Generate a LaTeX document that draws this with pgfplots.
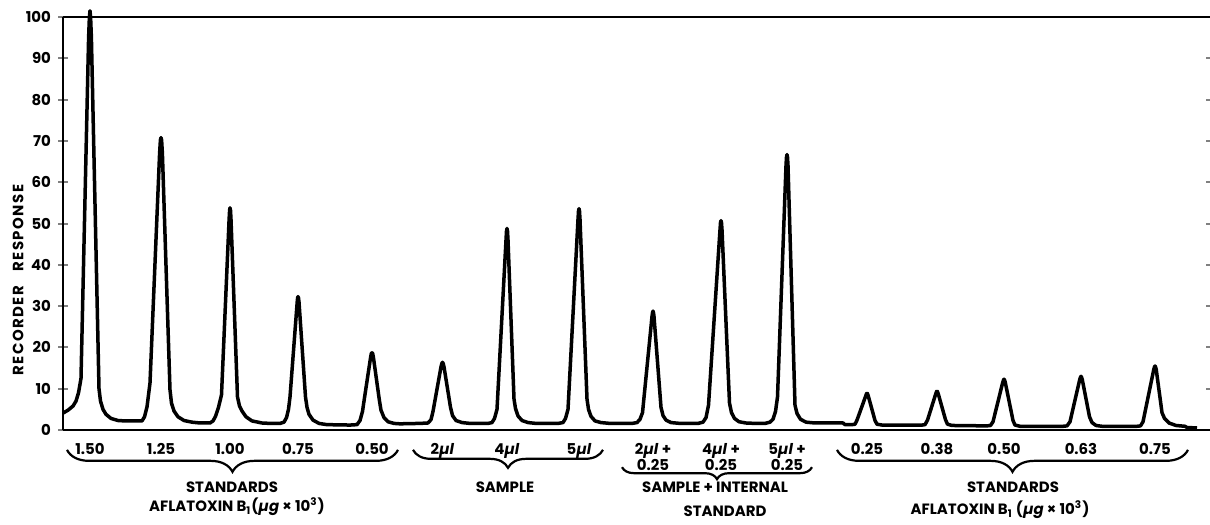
\documentclass[border=0pt]{standalone}
\usepackage{fontspec}
\setmainfont{Poppins}
\usepackage{pgfplots}
\pgfplotsset{compat=1.18}
\usetikzlibrary{decorations.pathreplacing}

\begin{document}
\begin{tikzpicture}[font=\bfseries\fontsize{7.5}{9.5}\selectfont]
\begin{axis}[
  scale only axis, width=573.5bp, height=206.5bp,
  xmin=63, xmax=1210, ymin=0, ymax=100,
  axis x line=box, axis y line*=left,
  x axis line style={-}, y axis line style={-},
  axis line style={line width=1.3bp},
  clip=false,
  /pgf/number format/assume math mode=true,
  ytick={0,10,...,100},
  ytick pos=left,
  tick align=center,
  major tick length=5bp,
  y tick style={line width=1bp},
  x tick style={draw=none},
  xtick={90,161,230,298,372,442.5,507,579,653,721,787,867,937,1004,1081,1155},
  xticklabels={1.50,1.25,1.00,0.75,0.50,2\textit{µl},4\textit{µl},5\textit{µl},
    {2\textit{µl} +\\0.25},{4\textit{µl} +\\0.25},{5\textit{µl} +\\0.25},
    0.25,0.38,0.50,0.63,0.75},
  xticklabel style={align=center, anchor=north, yshift=-0.5bp, font=\bfseries\fontsize{7.5}{8}\selectfont},
  yticklabel style={font=\bfseries\fontsize{7.5}{9}\selectfont},
  ylabel={RECORDER\hspace{7bp}RESPONSE},
  ylabel style={at={(axis description cs:-0.0392,0.363)}, anchor=center, font=\bfseries\fontsize{7.5}{9}\selectfont\addfontfeatures{LetterSpace=10}},
]
\addplot[black, line width=1.75bp, line join=round] coordinates {
(63,4.1) (68,4.8) (73,5.8) (76,7) (78.5,9) (81,12.5) (88.6,95) (89.4,100) (90,101.5) (90.6,100) (91.4,95) (99,10) (100.5,7) (103,5) (106,3.8) (111,2.8) (118,2.3) (125,2.2)
(142,2.2) (144.5,3.2) (147,5.6) (150,11.4) (159.6,67) (160.4,70.2) (161,70.8) (161.6,70.2) (162.4,67) (170,9.7) (171.5,6.5) (174,4.6) (178,3.2) (184,2.3) (192,1.9) (200,1.7)
(210,1.7) (213,2.2) (215.5,3.3) (218.5,5.5) (221.5,8.5) (229.1,51) (229.6,53.2) (230,53.8) (230.5,53.2) (231,51) (237.5,8) (239.5,5.8) (242,4.6) (246,3.2) (252,2.2) (262,1.7) (270,1.6)
(280,1.6) (284,1.9) (286.5,3) (288.5,5) (290,8) (297.2,31) (297.6,32) (298,32.3) (298.5,32) (299,31) (305.5,8) (307,5.5) (309,3.8) (313,2.4) (319,1.6) (327,1.3)
(350,1.2) (357,1.3) (360,2.3) (362.5,4.5) (364,7) (370.6,17.6) (371.3,18.5) (372,18.7) (372.7,18.5) (373.4,17.6) (379.5,7) (381,4.8) (384,3) (388,2) (394,1.6) (400,1.5)
(420,1.6) (428,1.7) (431,2.5) (433,4.5) (441,15.3) (441.8,16.1) (442.5,16.4) (443.2,16.1) (444,15.3) (450.5,5.5) (452.5,3.5) (456,2.3) (462,1.8) (470,1.6)
(488,1.6) (492,1.8) (494.5,2.8) (497,5) (506,46) (506.5,48.2) (507,48.8) (507.5,48.2) (508,46) (514,7.5) (515.5,5.2) (518,3.4) (522,2.3) (528,1.8) (536,1.6)
(558,1.6) (563,1.8) (565.5,2.8) (568,5) (578,51) (578.5,53) (579,53.6) (579.5,53) (580,51) (587,7.5) (588.5,5) (591,3.3) (595,2.2) (601,1.8) (610,1.6)
(632,1.6) (637,1.8) (640,2.6) (642.5,4.2) (652,27.5) (652.5,28.4) (653,28.8) (653.5,28.4) (654,27.5) (661,5.5) (663,3.5) (666,2.4) (671,1.8) (680,1.6)
(698,1.6) (703,1.9) (706,3) (708.5,6) (720,48.5) (720.5,50.2) (721,50.7) (721.5,50.2) (722,48.5) (729.5,6.5) (731.5,4.2) (734.5,2.8) (739,2) (746,1.7) (755,1.6)
(765,1.6) (770,1.9) (773,2.6) (775.5,4.5) (777.5,8) (786,64) (786.5,66.1) (787,66.7) (787.5,66.1) (788,64) (795,6) (797,4) (800.5,2.6) (806,1.9) (815,1.7) (843,1.7) (845,1.3)
(852,1.3) (855,1.4) (857,2.4) (865.8,8.3) (866.5,8.8) (867,8.9) (867.5,8.8) (868.2,8.3) (875,2.3) (877,1.4) (882,1.2)
(922,1.2) (925,1.3) (927.5,2.4) (935.8,8.8) (936.5,9.3) (937,9.4) (937.5,9.3) (938.2,8.8) (945.5,2.5) (947.5,1.4) (952,1.1)
(987,1.0) (990.5,1.1) (993,2) (1002.8,11.6) (1003.5,12.1) (1004,12.3) (1004.5,12.1) (1005.2,11.6) (1013,2.3) (1015,1.2) (1020,0.9)
(1063,0.9) (1067,1.0) (1070,2) (1079.8,12.3) (1080.5,12.8) (1081,13) (1081.5,12.8) (1082.2,12.3) (1089.5,3.2) (1092,1.8) (1096,1.1) (1102,0.9)
(1137,0.9) (1140.5,1.0) (1143,2) (1153.8,14.7) (1154.5,15.3) (1155,15.5) (1155.5,15.3) (1156.2,14.7) (1162,4.2) (1164.5,2.8) (1169,1.7) (1176,1.1) (1185,0.9) (1187,0.6) (1197,0.5)
};
% braces
\draw[line width=1.1bp, decorate, decoration={brace, mirror, amplitude=11bp}] (axis cs:67,-4.8) -- (axis cs:398,-4.8);
\draw[line width=1.1bp, decorate, decoration={brace, mirror, amplitude=9bp}] (axis cs:413,-4.8) -- (axis cs:603,-4.8);
\draw[line width=1.1bp, decorate, decoration={brace, mirror, amplitude=6bp}] (axis cs:622,-9.0) -- (axis cs:812,-9.0);
\draw[line width=1.1bp, decorate, decoration={brace, mirror, amplitude=11bp}] (axis cs:837,-4.8) -- (axis cs:1188,-4.8);
% group texts
\node at (axis cs:232,-13.8) {STANDARDS};
\node at (axis cs:237,-18.6) {AFLATOXIN B\textsubscript{1}(\textit{µg} × 10\textsuperscript{3})};
\node at (axis cs:505,-13.8) {SAMPLE};
\node at (axis cs:715,-13.8) {SAMPLE + INTERNAL};
\node at (axis cs:725,-19.6) {STANDARD};
\node at (axis cs:1013,-13.8) {STANDARDS};
\node at (axis cs:1000,-19.4) {AFLATOXIN B\textsubscript{1} (\textit{µg} × 10\textsuperscript{3})};
\coordinate (BL) at (axis cs:0,-23.0);
\coordinate (TR) at (axis cs:1210,104.12);
\end{axis}
\begin{axis}[
  scale only axis, width=573.5bp, height=206.5bp,
  xmin=63, xmax=1210, ymin=0, ymax=100,
  axis y line*=right, axis x line=none,
  y axis line style={draw=none},
  ytick={10,20,...,90}, yticklabels={},
  tick align=inside, major tick length=2bp,
  y tick style={line width=1bp},
]
\end{axis}
\pgfresetboundingbox
\useasboundingbox (BL) rectangle (TR);
\end{tikzpicture}
\end{document}
